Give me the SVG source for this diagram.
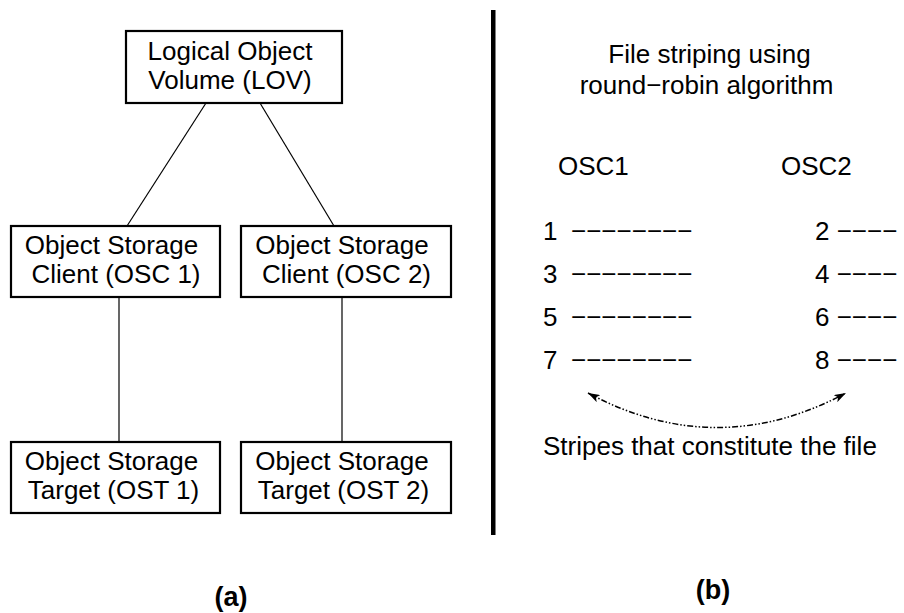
<svg xmlns="http://www.w3.org/2000/svg" width="904" height="613" viewBox="0 0 904 613">
<defs>
<style>
.box{fill:#fff;stroke:#000;stroke-width:2.2}
.t{font-family:"Liberation Sans",Arial,sans-serif;font-size:26px;fill:#000}
.c{text-anchor:middle}
.b{font-weight:bold;font-size:27px}
.ln{stroke:#000;stroke-width:1.2;fill:none}
</style>
<marker id="ah" viewBox="0 0 12 8" refX="12" refY="4" markerWidth="12" markerHeight="8" markerUnits="userSpaceOnUse" orient="auto-start-reverse">
<path d="M0,0 L12,4 L0,8 L3,4 Z" fill="#000"/>
</marker>
</defs>
<rect width="904" height="613" fill="#fff"/>
<g id="connectors">
<line class="ln" x1="206" y1="103" x2="127" y2="226"/>
<line class="ln" x1="260" y1="103" x2="334" y2="226"/>
<line class="ln" x1="119" y1="297" x2="119" y2="442"/>
<line class="ln" x1="342" y1="297" x2="342" y2="442"/>
<path d="M588,393 Q717,462 846,393" fill="none" stroke="#000" stroke-width="1.5" stroke-dasharray="6 2 1.5 2 1.5 2" marker-start="url(#ah)" marker-end="url(#ah)"/>
</g>
<g id="lov">
<rect class="box" x="126" y="31" width="216" height="72"/>
<text class="t c" x="230" y="60">Logical Object</text>
<text class="t c" x="230" y="89">Volume (LOV)</text>
</g>
<g id="osc1">
<rect class="box" x="11" y="226" width="209" height="71"/>
<text class="t c" x="111.5" y="254">Object Storage</text>
<text class="t c" x="116" y="283">Client (OSC 1)</text>
</g>
<g id="osc2">
<rect class="box" x="241" y="226" width="210" height="71"/>
<text class="t c" x="342" y="254">Object Storage</text>
<text class="t c" x="346.5" y="283">Client (OSC 2)</text>
</g>
<g id="ost1">
<rect class="box" x="11" y="442" width="209" height="71"/>
<text class="t c" x="111.5" y="470">Object Storage</text>
<text class="t c" x="113.5" y="499">Target (OST 1)</text>
</g>
<g id="ost2">
<rect class="box" x="241" y="442" width="210" height="71"/>
<text class="t c" x="342" y="470">Object Storage</text>
<text class="t c" x="343.5" y="499">Target (OST 2)</text>
</g>
<text class="t c b" x="231" y="606">(a)</text>
<rect x="491" y="10" width="4.5" height="525" fill="#000"/>
<g id="striping">
<text class="t c" x="709.5" y="63">File striping using</text>
<text class="t c" x="706.5" y="94">round−robin algorithm</text>
<text class="t" x="558" y="175">OSC1</text>
<text class="t" x="781" y="175">OSC2</text>
<text class="t" x="543" y="240">1</text>
<text class="t" x="543" y="283">3</text>
<text class="t" x="543" y="326">5</text>
<text class="t" x="543" y="369">7</text>
<text class="t" x="571" y="240">−−−−−−−−</text>
<text class="t" x="571" y="283">−−−−−−−−</text>
<text class="t" x="571" y="326">−−−−−−−−</text>
<text class="t" x="571" y="369">−−−−−−−−</text>
<text class="t" x="815" y="240">2 −−−−</text>
<text class="t" x="815" y="283">4 −−−−</text>
<text class="t" x="815" y="326">6 −−−−</text>
<text class="t" x="815" y="369">8 −−−−</text>
<text class="t" x="543" y="455">Stripes that constitute the file</text>
</g>
<text class="t c b" x="713" y="599">(b)</text>
</svg>
